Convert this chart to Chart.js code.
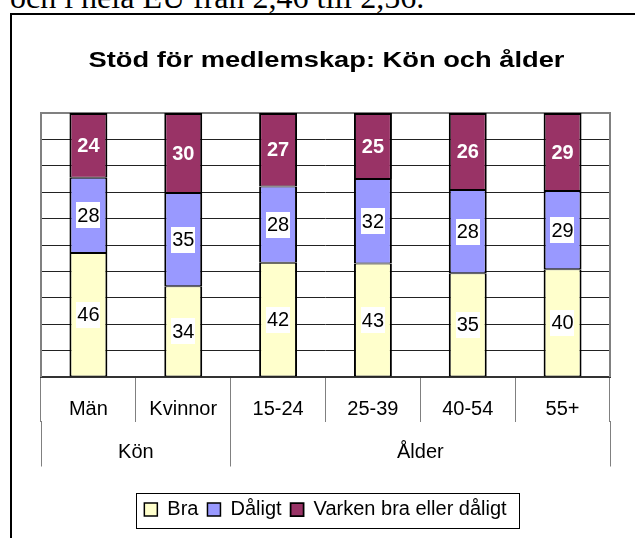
<!DOCTYPE html>
<html>
<head>
<meta charset="utf-8">
<script src="https://cdn.jsdelivr.net/npm/chart.js@4"></script>
<style>
  html, body { margin: 0; padding: 0; background: #fff; width: 635px; height: 538px; overflow: hidden; }
  #pagetext { position: absolute; left: 10px; top: -19px; font: 32px/32px "Liberation Serif", "Times New Roman", serif; white-space: nowrap; color: #000; }
  #frame { position: absolute; left: 10px; top: 13px; width: 700px; height: 600px; border: 2px solid #000; }
  #chart { position: absolute; left: 0; top: 0; }
</style>
</head>
<body>
<div id="pagetext">och i hela EU från 2,46 till 2,56.</div>
<div id="frame"></div>
<canvas id="chart" width="635" height="538"></canvas>
<script>
// data
var titel = "Stöd för medlemskap: Kön och ålder";
var kategorier = ["Män", "Kvinnor", "15-24", "25-39", "40-54", "55+"];
var grupper = ["Kön", "Ålder"];
var grupp_start = [0, 2, 6]; // kategori-index där grupperna börjar/slutar
var bra = [46, 34, 42, 43, 35, 40];
var daligt = [28, 35, 28, 32, 28, 29];
var varken = [24, 30, 27, 25, 26, 29];

var FONT = "'Liberation Sans', Arial, sans-serif";

// 100% staplat: andel av summan per kategori
function andel(serie) {
    return serie.map(function (v, i) {
        return (v / (bra[i] + daligt[i] + varken[i])) * 100;
    });
}

var titelPlugin = {
    id: "titel",
    afterDraw: function (chart) {
        var ctx = chart.ctx;
        var cx = (chart.chartArea.left + chart.chartArea.right) / 2 + 1;
        ctx.save();
        ctx.translate(cx, 61);
        ctx.scale(1.24, 1);
        ctx.font = "bold 22px " + FONT;
        ctx.fillStyle = "#000";
        ctx.textAlign = "center";
        ctx.textBaseline = "middle";
        ctx.fillText(titel, 0, 0);
        ctx.restore();
    },
};

// ram runt ritytan (grå) och runt förklaringen
var ramPlugin = {
    id: "ram",
    beforeDatasetsDraw: function (chart) {
        var a = chart.chartArea;
        var ctx = chart.ctx;
        ctx.save();
        ctx.strokeStyle = "#808080";
        ctx.lineWidth = 2;
        ctx.beginPath();
        ctx.moveTo(a.left, a.bottom);
        ctx.lineTo(a.left, a.top);
        ctx.lineTo(a.right, a.top);
        ctx.lineTo(a.right, a.bottom);
        ctx.stroke();
        ctx.restore();
    },
    afterDraw: function (chart) {
        var lg = chart.legend;
        var boxes = lg.legendHitBoxes;
        if (!boxes || !boxes.length) return;
        var last = boxes[boxes.length - 1];
        var x1 = boxes[0].left - 8;
        var x2 = last.left + last.width + 13;
        var ctx = chart.ctx;
        ctx.save();
        ctx.strokeStyle = "#000";
        ctx.lineWidth = 1;
        ctx.strokeRect(Math.round(x1) + 0.5, 493.5, Math.round(x2 - x1), 35);
        ctx.restore();
    },
};

var etikettPlugin = {
    id: "etiketter",
    afterDatasetsDraw: function (chart) {
        var ctx = chart.ctx;
        ctx.save();
        ctx.textAlign = "center";
        ctx.textBaseline = "middle";
        chart.data.datasets.forEach(function (ds, i) {
            chart.getDatasetMeta(i).data.forEach(function (bar, j) {
                var y = (bar.y + bar.base) / 2;
                var txt = String(ds.varden[j]);
                if (ds.vitBakgrund) {
                    ctx.font = "20px " + FONT;
                    var w = ctx.measureText(txt).width + 2;
                    ctx.fillStyle = "#fff";
                    ctx.fillRect(Math.round(bar.x - w / 2), Math.round(y - 13), Math.round(w), 26);
                    ctx.fillStyle = "#000";
                } else {
                    ctx.font = "bold 20px " + FONT;
                    ctx.fillStyle = "#fff";
                }
                ctx.fillText(txt, bar.x, y + 1);
            });
        });
        ctx.restore();
    },
};

var ctx = document.getElementById("chart");
var chart = new Chart(ctx, {
    type: "bar",
    data: {
        labels: kategorier,
        datasets: [
            {
                label: "Bra",
                data: andel(bra),
                varden: bra,
                vitBakgrund: true,
                backgroundColor: "#FFFFCC",
                borderColor: "#000",
                borderWidth: { top: 1, bottom: 1, left: 2, right: 2 },
                borderSkipped: false,
            },
            {
                label: "Dåligt",
                data: andel(daligt),
                varden: daligt,
                vitBakgrund: true,
                backgroundColor: "#9999FF",
                borderColor: "#000",
                borderWidth: { top: 1, bottom: 1, left: 2, right: 2 },
                borderSkipped: false,
            },
            {
                label: "Varken bra eller dåligt",
                data: andel(varken),
                varden: varken,
                vitBakgrund: false,
                backgroundColor: "#993366",
                borderColor: "#000",
                borderWidth: { top: 2, bottom: 1, left: 2, right: 2 },
                borderSkipped: false,
            },
        ],
    },
    options: {
        responsive: false,
        animation: false,
        devicePixelRatio: 1,
        layout: { padding: { left: 41, right: 25, top: 113, bottom: 8.5 } },
        datasets: { bar: { categoryPercentage: 1, barPercentage: 0.4 } },
        scales: {
            x: {
                stacked: true,
                grid: { offset: true, drawOnChartArea: false, drawTicks: true, tickLength: 45, tickColor: "#808080", tickWidth: 1 },
                border: { display: true, color: "#333", width: 2 },
                ticks: { color: "#000", font: { family: FONT, size: 20 }, padding: -25, maxRotation: 0, autoSkip: false },
                afterFit: function (s) { s.height = 43.5; },
            },
            x2: {
                type: "linear",
                position: "bottom",
                weight: 1,
                offset: false,
                min: 0,
                max: kategorier.length,
                grid: {
                    offset: false,
                    drawOnChartArea: false,
                    drawTicks: true,
                    tickLength: 46,
                    tickWidth: 1,
                    tickColor: function (c) {
                        return c.tick && grupp_start.indexOf(c.tick.value) >= 0 ? "#808080" : "rgba(0,0,0,0)";
                    },
                },
                border: { display: false },
                afterBuildTicks: function (s) {
                    var t = [];
                    grupp_start.forEach(function (v, i) {
                        t.push({ value: v });
                        if (i < grupper.length) t.push({ value: (v + grupp_start[i + 1]) / 2 });
                    });
                    s.ticks = t;
                },
                ticks: {
                    color: "#000",
                    font: { family: FONT, size: 20 },
                    padding: -26,
                    maxRotation: 0,
                    autoSkip: false,
                    callback: function (v) {
                        for (var i = 0; i < grupper.length; i++) {
                            if (v === (grupp_start[i] + grupp_start[i + 1]) / 2) return grupper[i];
                        }
                        return "";
                    },
                },
                afterFit: function (s) { s.height = 70; },
            },
            y: {
                stacked: true,
                min: 0,
                max: 100,
                ticks: { display: false, stepSize: 10 },
                grid: { color: "#222", lineWidth: 1, drawTicks: false },
                border: { display: false },
            },
        },
        plugins: {
            title: { display: false },
            tooltip: { enabled: false },
            legend: {
                position: "bottom",
                labels: {
                    color: "#000",
                    font: { family: FONT, size: 20 },
                    boxWidth: 13,
                    boxHeight: 13,
                    padding: 9,
                },
            },
        },
    },
    plugins: [titelPlugin, ramPlugin, etikettPlugin],
});
</script>
</body>
</html>
